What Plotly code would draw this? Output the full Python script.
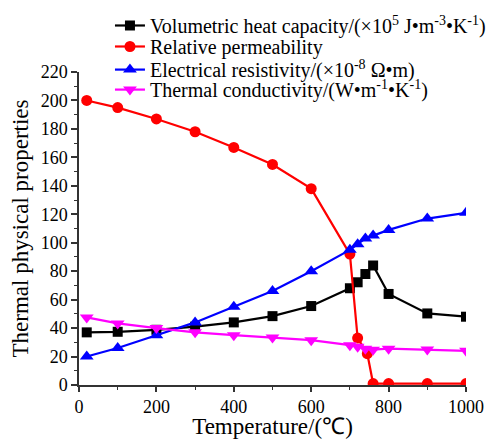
import plotly.graph_objects as go

temp_heat = [20, 100, 200, 300, 400, 500, 600, 700, 720, 740, 760, 800, 900, 1000]
heat_capacity = [37, 37.4, 38.8, 41, 44, 48.4, 55.5, 68, 72.2, 78, 84, 64, 50.3, 48]

temp_perm = [20, 100, 200, 300, 400, 500, 600, 700, 720, 745, 760, 800, 900, 1000]
permeability = [200, 195, 187, 178, 167, 155, 138, 92, 33, 22, 1, 1, 1, 1]

temp_res = [20, 100, 200, 300, 400, 500, 600, 700, 720, 740, 760, 800, 900, 1000]
resistivity = [20, 26, 35, 44, 55, 66, 80, 95, 99, 103, 105, 109, 117, 121]

temp_cond = [20, 100, 200, 300, 400, 500, 600, 700, 720, 740, 760, 800, 900, 1000]
conductivity = [47.5, 43.3, 40, 37, 35, 33.4, 31.5, 28, 26.8, 25.5, 24.8, 25.5, 25, 24]

names = [
    "Volumetric heat capacity/(×10<sup>5</sup> J•m<sup>-3</sup>•K<sup>-1</sup>)",
    "Relative permeability",
    "Electrical resistivity/(×10<sup>-8</sup> Ω•m)",
    "Thermal conductivity/(W•m<sup>-1</sup>•K<sup>-1</sup>)",
]

font_family = "Liberation Serif, Times New Roman, serif"

fig = go.Figure()
series = [
    (temp_heat, heat_capacity, "#000000", "square", 10),
    (temp_perm, permeability, "#ff0000", "circle", 11),
    (temp_res, resistivity, "#0000ff", "triangle-up", 12),
    (temp_cond, conductivity, "#ff00ff", "triangle-down", 12),
]
legend_ids = ["legend", "legend2", "legend3", "legend4"]
legend_y = [1.1486, 1.0815, 1.0077, 0.9438]
for (x, y, c, sym, ms), n, lg in zip(series, names, legend_ids):
    fig.add_trace(go.Scatter(
        x=x, y=y, name=n, mode="lines+markers",
        line=dict(color=c, width=2.2),
        marker=dict(symbol=sym, size=ms, color=c),
        legend=lg,
    ))

legend_common = dict(
    x=0.08, xanchor="left", yanchor="middle",
    bgcolor="rgba(0,0,0,0)", font=dict(size=20, family=font_family, color="black"),
)
layout_legends = {}
for lg, ly in zip(legend_ids, legend_y):
    layout_legends[lg] = dict(legend_common, y=ly)

# page body has an 8px default margin, so the figure is 8px smaller and offset
fig.update_layout(
    width=492, height=431,
    margin=dict(l=71, r=34, t=64, b=54, autoexpand=False),
    paper_bgcolor="white", plot_bgcolor="white",
    font=dict(family=font_family, color="black", size=18),
    showlegend=True,
    **layout_legends,
    xaxis=dict(
        range=[0, 1000], showgrid=False, zeroline=False, automargin=False,
        showline=True, linecolor="#333333", linewidth=1.5,
        ticks="outside", ticklen=5, tickwidth=1.5, tickcolor="#333333",
        tickvals=[0, 200, 400, 600, 800, 1000],
        minor=dict(tickvals=[100, 300, 500, 700, 900], ticks="outside", ticklen=3, tickcolor="#333333", tickwidth=1.2),
        title=dict(text="Temperature/(℃)", font=dict(size=23), standoff=5),
        tickfont=dict(size=18),
    ),
    yaxis=dict(
        range=[0, 220], showgrid=False, zeroline=False, automargin=False,
        showline=True, linecolor="#333333", linewidth=1.5,
        ticks="outside", ticklen=6, tickwidth=1.5, tickcolor="#333333",
        tickvals=list(range(0, 221, 20)),
        minor=dict(tickvals=list(range(10, 220, 20)), ticks="outside", ticklen=3, tickcolor="#333333", tickwidth=1.2),
        title=dict(text="Thermal physical properties", font=dict(size=23), standoff=6),
        tickfont=dict(size=18),
    ),
)

fig.write_html("out.html")
